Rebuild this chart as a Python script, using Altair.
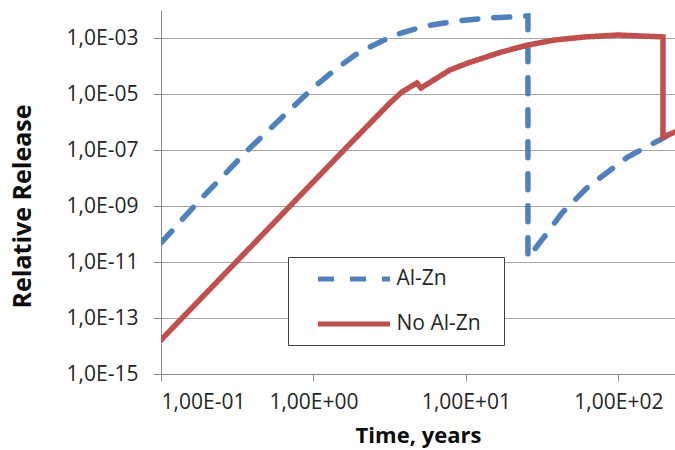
import altair as alt
import pandas as pd

# ---- data ----
series_names = ["Al-Zn", "No Al-Zn"]
series_colors = ["#4F81BD", "#C0504D"]

al_zn_time = [0.1, 0.18, 0.383, 0.723, 0.992, 1.43, 1.96, 2.42, 3.42, 5.38, 8.86, 13.9, 25.5,
              25.5, 34.5, 42.6, 63.1, 115, 202, 235]
al_zn_release = [4.8e-11, 1.64e-9, 1.18e-7, 3.16e-6, 1.64e-5, 8.5e-5, 2.91e-4, 5.2e-4, 1.28e-3,
                 2.68e-3, 4.05e-3, 5.2e-3, 6.1e-3,
                 1.4e-11, 1.18e-10, 5.6e-10, 4.8e-9, 5.6e-8, 2.9e-7, 4.8e-7]

no_al_zn_time = [0.1, 1.61, 3.17, 3.80, 4.77, 5.07, 7.85, 10.3, 17.2, 25.5, 38.4,
                 60.3, 99.3, 196, 196, 235]
no_al_zn_release = [1.64e-14, 1.09e-7, 4.77e-6, 1.18e-5, 2.47e-5, 1.64e-5, 7.2e-5,
                    1.28e-4, 3.2e-4, 5.6e-4, 8.5e-4, 1.09e-3, 1.28e-3, 1.09e-3, 2.9e-7, 4.4e-7]

x_tick_values = [0.1, 1, 10, 100]
y_tick_values = [1e-15, 1e-13, 1e-11, 1e-9, 1e-7, 1e-5, 1e-3]
x_domain = [0.1, 235]
y_domain = [1e-15, 1e-2]

rows = []
for i, (t, r) in enumerate(zip(al_zn_time, al_zn_release)):
    rows.append({"series": series_names[0], "time": t, "release": r, "idx": i})
for i, (t, r) in enumerate(zip(no_al_zn_time, no_al_zn_release)):
    rows.append({"series": series_names[1], "time": t, "release": r, "idx": i})
df = pd.DataFrame(rows)

FONT = "Open Sans"
exp = "round(log(datum.value)/LN10)"
y_label_expr = f"'1,0E' + ({exp} < 0 ? '-' : '+') + (abs({exp}) < 10 ? '0' : '') + abs({exp})"
x_label_expr = f"'1,00E' + ({exp} < 0 ? '-' : '+') + (abs({exp}) < 10 ? '0' : '') + abs({exp})"

# invisible spacer title on the right widens the legend box like the reference
legend = alt.Legend(title=".", titleOrient="right", titleColor="white", titleFontSize=10,
                    titlePadding=10)

chart = alt.Chart(df).mark_line(strokeWidth=5.5, strokeCap="round", strokeJoin="miter", clip=True).encode(
    x=alt.X("time:Q",
            scale=alt.Scale(type="log", domain=x_domain, nice=False),
            axis=alt.Axis(values=x_tick_values, labelExpr=x_label_expr, grid=False,
                          title="Time, years", titleY=61, titleBaseline="middle",
                          tickSize=7, labelPadding=10)),
    y=alt.Y("release:Q",
            scale=alt.Scale(type="log", domain=y_domain, nice=False),
            axis=alt.Axis(values=y_tick_values, labelExpr=y_label_expr, grid=True,
                          title="Relative Release", titleX=-139, titleY=196, titleFontSize=25,
                          titleAngle=270, titleAlign="center", titleBaseline="middle",
                          tickSize=8, labelPadding=15)),
    color=alt.Color("series:N", scale=alt.Scale(domain=series_names, range=series_colors), legend=legend),
    strokeDash=alt.StrokeDash("series:N", scale=alt.Scale(domain=series_names, range=[[16, 16], [1, 0]]),
                              legend=legend),
    order=alt.Order("idx:Q"),
).properties(
    width=514, height=364,
    autosize=alt.AutoSizeParams(type="none"),
    padding={"left": 161, "top": 10, "right": 0, "bottom": 76},
).configure_view(
    stroke=None
).configure_axis(
    domainColor="#8c8c8c", tickColor="#8c8c8c", gridColor="#a6a6a6",
    domainWidth=1, tickWidth=1, gridWidth=1,
    labelFont=FONT, labelFontSize=21, labelColor="#262626",
    titleFont=FONT, titleFontSize=22, titleFontWeight="bold", titleColor="#0d0d0d",
).configure_legend(
    orient="none", legendX=127, legendY=247,
    fillColor="white", strokeColor="#404040", strokeWidth=1,
    padding=10.5, symbolType="M-4,0H4", symbolSize=324, symbolStrokeWidth=5,
    symbolOffset=44, labelOffset=31,
    labelFont=FONT, labelFontSize=21, labelColor="#262626",
    rowPadding=23,
)

chart.save("out.html", embed_options={"renderer": "svg", "actions": False})
